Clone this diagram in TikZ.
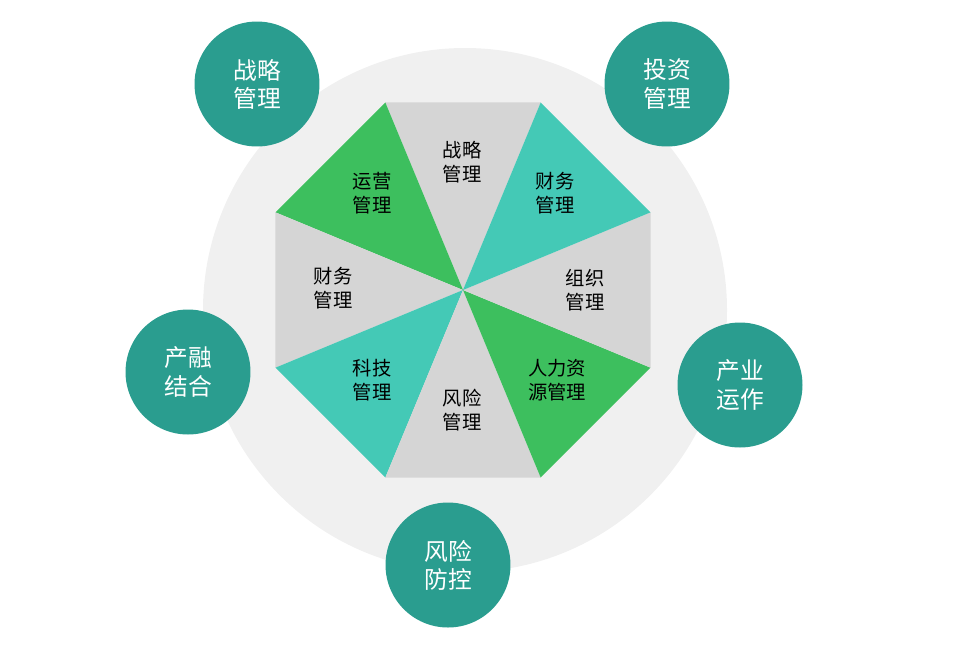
\documentclass[tikz,border=0pt]{standalone}
\usepackage{fontspec}
\setmainfont{Noto Sans CJK SC}
\definecolor{tealc}{HTML}{2A9D8F}
\definecolor{teall}{HTML}{44C9B6}
\definecolor{greenl}{HTML}{3DBF5E}
\definecolor{grayl}{HTML}{D5D5D5}
\tikzset{
  ring/.style={circle, fill=tealc, minimum size=2.5cm, text=white, align=center, font=\fontsize{13.5pt}{16pt}\selectfont},
  seglabel/.style={align=center, font=\fontsize{11pt}{14pt}\selectfont}
}
\begin{document}
\begin{tikzpicture}[x=0.02cm, y=-0.02cm]
    \useasboundingbox (0,0) rectangle (956,654);
    % Background disc
    \fill[gray!12] (465,310) circle (262);
    % Octagon centre
    \coordinate (o) at (463,290);
    % Eight triangles
    \foreach \a/\c in {112.5/grayl, 67.5/greenl, 22.5/grayl, -22.5/teall, -67.5/grayl, -112.5/greenl, -157.5/grayl, 157.5/teall}{
        \fill[\c] (o) -- ++(\a:-203) -- ([shift={(\a-45:-203)}]o) -- cycle;
    }
    % Triangle labels
    \node[seglabel] (t1) at (462,162) {战略\\管理};
    \node[seglabel] (t2) at (555,193) {财务\\管理};
    \node[seglabel] (t3) at (585,290) {组织\\管理};
    \node[seglabel] (t4) at (557,380) {人力资\\源管理};
    \node[seglabel] (t5) at (462,410) {风险\\管理};
    \node[seglabel] (t6) at (372,380) {科技\\管理};
    \node[seglabel] (t7) at (333,288) {财务\\管理};
    \node[seglabel] (t8) at (372,193) {运营\\管理};
    % Outer circles
    \node[ring] (c1) at (257,84) {战略\\管理};
    \node[ring] (c2) at (667,84) {投资\\管理};
    \node[ring] (c3) at (188,372) {产融\\结合};
    \node[ring] (c4) at (740,385) {产业\\运作};
    \node[ring] (c5) at (448,565) {风险\\防控};
\end{tikzpicture}
\end{document}
